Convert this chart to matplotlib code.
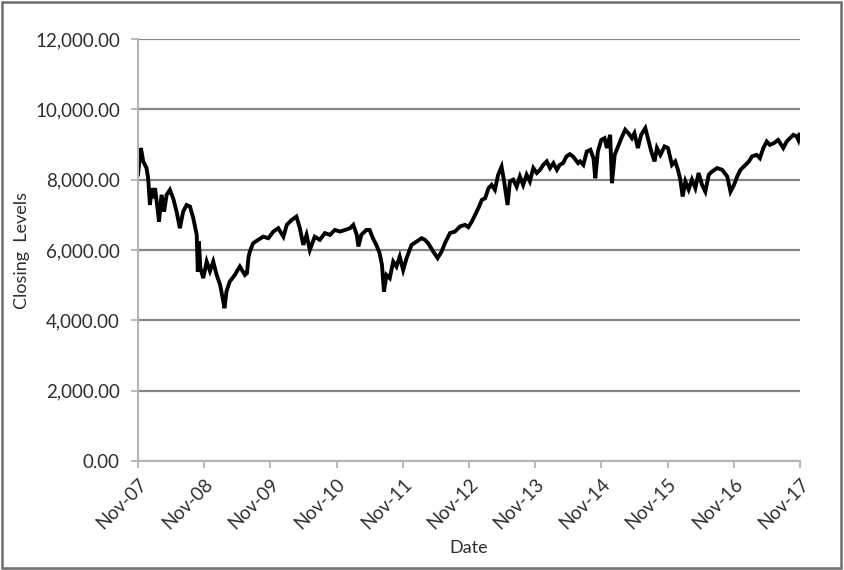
"""
Closing levels of the index, Nov-07 to Nov-17, redrawn as an Excel-style line chart.
"""

import pandas as pd
import matplotlib
matplotlib.use("Agg")
import matplotlib.pyplot as plt
import matplotlib.ticker as mticker
from matplotlib.patches import Rectangle


# ─── Data ──────────────────────────────────────────────────────────────────────

dates = [
    "2007-11-01", "2007-11-17", "2007-11-30", "2007-12-18", "2007-12-27",
    "2008-01-06", "2008-01-15", "2008-01-24", "2008-02-03", "2008-02-14",
    "2008-02-25", "2008-03-10", "2008-03-24", "2008-04-07", "2008-04-25",
    "2008-05-13", "2008-06-01", "2008-06-19", "2008-07-07", "2008-07-26",
    "2008-08-14", "2008-09-01", "2008-09-20", "2008-09-26", "2008-10-02",
    "2008-10-10", "2008-10-26", "2008-11-14", "2008-12-02", "2008-12-20",
    "2009-01-08", "2009-01-27", "2009-02-14", "2009-02-20", "2009-03-03",
    "2009-03-21", "2009-04-18", "2009-05-16", "2009-06-13", "2009-06-24",
    "2009-07-03", "2009-07-10", "2009-07-28", "2009-08-25", "2009-09-22",
    "2009-10-20", "2009-11-17", "2009-12-14", "2010-01-11", "2010-01-30",
    "2010-02-27", "2010-03-24", "2010-04-12", "2010-05-01", "2010-05-19",
    "2010-06-06", "2010-07-03", "2010-07-31", "2010-08-28", "2010-09-25",
    "2010-10-22", "2010-11-20", "2010-12-17", "2011-01-14", "2011-02-01",
    "2011-02-20", "2011-03-01", "2011-03-17", "2011-04-14", "2011-05-02",
    "2011-05-20", "2011-06-08", "2011-06-26", "2011-07-09", "2011-07-20",
    "2011-08-03", "2011-08-21", "2011-09-09", "2011-09-27", "2011-10-15",
    "2011-11-03", "2011-11-22", "2011-12-19", "2012-01-16", "2012-02-13",
    "2012-03-02", "2012-03-20", "2012-04-17", "2012-05-11", "2012-06-02",
    "2012-06-20", "2012-07-18", "2012-08-15", "2012-09-12", "2012-10-09",
    "2012-10-27", "2012-11-16", "2012-12-04", "2012-12-22", "2013-01-10",
    "2013-01-28", "2013-02-16", "2013-03-05", "2013-03-23", "2013-04-10",
    "2013-04-29", "2013-05-13", "2013-06-01", "2013-06-14", "2013-07-02",
    "2013-07-21", "2013-08-08", "2013-08-26", "2013-09-14", "2013-10-02",
    "2013-10-21", "2013-11-09", "2013-11-27", "2013-12-15", "2014-01-03",
    "2014-01-21", "2014-02-09", "2014-02-28", "2014-03-16", "2014-04-03",
    "2014-04-22", "2014-05-10", "2014-05-28", "2014-06-25", "2014-07-06",
    "2014-07-24", "2014-08-12", "2014-09-01", "2014-09-18", "2014-09-28",
    "2014-10-12", "2014-10-31", "2014-11-18", "2014-12-01", "2014-12-19",
    "2014-12-29", "2015-01-13", "2015-02-01", "2015-02-19", "2015-03-12",
    "2015-03-30", "2015-04-18", "2015-05-02", "2015-05-21", "2015-06-08",
    "2015-07-01", "2015-07-15", "2015-08-03", "2015-08-21", "2015-09-03",
    "2015-09-22", "2015-10-15", "2015-11-03", "2015-11-25", "2015-12-13",
    "2015-12-28", "2016-01-10", "2016-01-23", "2016-02-07", "2016-02-25",
    "2016-03-14", "2016-04-02", "2016-04-20", "2016-05-09", "2016-05-27",
    "2016-06-15", "2016-07-03", "2016-07-31", "2016-08-28", "2016-09-25",
    "2016-10-13", "2016-11-01", "2016-11-19", "2016-12-07", "2016-12-25",
    "2017-01-23", "2017-02-08", "2017-03-06", "2017-03-24", "2017-04-12",
    "2017-05-01", "2017-05-18", "2017-06-10", "2017-07-03", "2017-07-31",
    "2017-08-19", "2017-09-06", "2017-09-25", "2017-10-13", "2017-10-22",
    "2017-10-28",
]

closing = [
    8150, 8900, 8520, 8330, 8040,
    7280, 7760, 7470, 7760, 7300,
    6810, 7570, 7090, 7570, 7710,
    7470, 7090, 6620, 7090, 7280,
    7235, 6905, 6430, 5380, 6240,
    5500, 5200, 5670, 5400, 5670,
    5290, 5010, 4530, 4345, 4820,
    5100, 5290, 5530, 5290, 5340,
    5800, 5955, 6190, 6290, 6380,
    6335, 6525, 6620, 6380, 6715,
    6860, 6950, 6620, 6145, 6430,
    6000, 6380, 6290, 6480, 6430,
    6570, 6525, 6570, 6620, 6715,
    6430, 6100, 6430, 6570, 6570,
    6335, 6145, 5910, 5575, 4820,
    5290, 5200, 5670, 5530, 5810,
    5430, 5770, 6145, 6240, 6335,
    6290, 6190, 5955, 5770, 5955,
    6190, 6480, 6525, 6670, 6715,
    6650, 6810, 7000, 7190, 7425,
    7470, 7760, 7850, 7710, 8140,
    8370, 7950, 7280, 7950, 8000,
    7800, 8090, 7850, 8140, 7950,
    8330, 8190, 8280, 8420, 8520,
    8330, 8470, 8280, 8420, 8470,
    8660, 8725, 8660, 8470, 8520,
    8420, 8800, 8850, 8610, 8040,
    8800, 9130, 9180, 8900, 9275,
    7900, 8705, 8945, 9180, 9420,
    9320, 9180, 9320, 8900, 9275,
    9465, 9180, 8800, 8520, 8900,
    8705, 8945, 8900, 8420, 8520,
    8280, 8000, 7520, 7950, 7720,
    8000, 7760, 8190, 7850, 7660,
    8140, 8230, 8330, 8280, 8090,
    7660, 7850, 8090, 8280, 8370,
    8520, 8660, 8705, 8610, 8900,
    9085, 8990, 9040, 9130, 8900,
    9085, 9180, 9275, 9230, 9130,
    9280,
]

tick_dates = ["2007-11-01", "2008-11-01", "2009-11-01", "2010-11-01",
              "2011-11-01", "2012-11-01", "2013-11-01", "2014-11-01",
              "2015-11-01", "2016-11-01", "2017-11-01"]
tick_labels = ["Nov-07", "Nov-08", "Nov-09", "Nov-10", "Nov-11", "Nov-12",
               "Nov-13", "Nov-14", "Nov-15", "Nov-16", "Nov-17"]

y_ticks = [0, 2000, 4000, 6000, 8000, 10000, 12000]


# ─── Plot ──────────────────────────────────────────────────────────────────────

plt.rcParams["font.family"] = ["Lato", "DejaVu Sans"]

GRID = "#858585"
TEXT = "#2e2e2e"

fig = plt.figure(figsize=(8.44, 5.70), dpi=100, facecolor="white")
ax = fig.add_axes([0.1635, 0.1912, 0.7845, 0.7404])

x = pd.to_datetime(dates)
ax.plot(x, closing, color="black", linewidth=2.8, solid_joinstyle="miter")

ax.set_xlim(pd.Timestamp(tick_dates[0]), pd.Timestamp(tick_dates[-1]))
ax.set_ylim(0, 12000)

ax.set_yticks(y_ticks)
ax.yaxis.set_major_formatter(mticker.StrMethodFormatter("{x:,.2f}"))
ax.set_xticks(pd.to_datetime(tick_dates))
ax.set_xticklabels(tick_labels, rotation=45, ha="right", rotation_mode="anchor")

ax.grid(axis="y", color=GRID, linewidth=1.6)
ax.set_axisbelow(True)
for side in ["top", "right"]:
    ax.spines[side].set_visible(False)
for side in ["left", "bottom"]:
    ax.spines[side].set_color("#b4b4b4")
    ax.spines[side].set_linewidth(1.5)

ax.tick_params(axis="both", colors="#b4b4b4", labelcolor=TEXT,
               length=5, width=1.3, labelsize=13.5)
ax.tick_params(axis="y", pad=8)
ax.tick_params(axis="x", pad=5)

ax.set_ylabel("Closing  Levels", fontsize=13, color=TEXT, labelpad=4)
ax.set_xlabel("Date", fontsize=13, color=TEXT, labelpad=6)

# thin gray frame around the whole chart, like the Excel chart area border
fig.patches.append(Rectangle((0.002, 0.004), 0.995, 0.993,
                             transform=fig.transFigure, fill=False,
                             edgecolor="#6e6e6e", linewidth=1.8))

fig.savefig("out.png", dpi=100, facecolor="white")
